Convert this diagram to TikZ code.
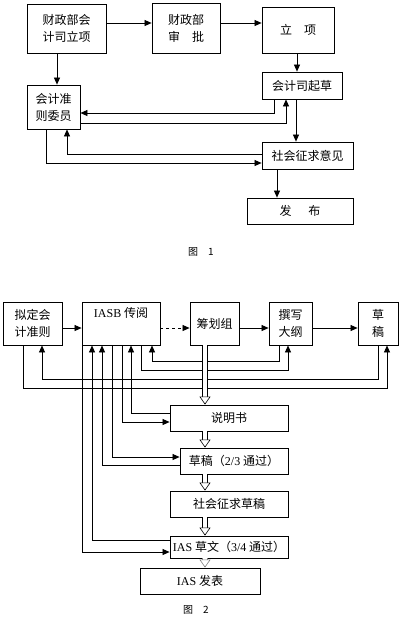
\documentclass[tikz,border=0pt]{standalone}
\usepackage{fontspec}
\setmainfont{Liberation Serif}
\newfontfamily\cjk{Noto Sans CJK SC}
\usetikzlibrary{arrows.meta}
\newcommand{\lat}[1]{{\rmfamily #1}}
\tikzset{
    box/.style={draw, line width=0.8pt, inner sep=0pt, align=center, font=\cjk\fontsize{12}{17}\selectfont},
    arr/.style={-{Triangle[length=7pt, width=6pt]}, line width=0.7pt},
    hollow/.style={double, double distance=4.5pt, line width=0.6pt, -{Triangle[length=8pt, width=11pt, fill=white, line width'=0.6pt]}},
    caption/.style={font=\cjk\fontsize{10}{12}\selectfont}
}
\begin{document}
\begin{tikzpicture}[x=1pt, y=-1pt]
\useasboundingbox (0,0) rectangle (400,619);
% Figure 1
\node[box, minimum width=79pt, minimum height=49pt] (kjslx) at (66.5,28.5) {财政部会\\计司立项};
\node[box, minimum width=68pt, minimum height=50pt] (czbsp) at (186,28) {财政部\\审\quad 批};
\node[box, minimum width=72pt, minimum height=46pt] (lixiang) at (298,30) {立\quad 项};
\node[box, minimum width=80pt, minimum height=27pt] (kjsqc) at (302,85.5) {会计司起草};
\node[box, minimum width=53pt, minimum height=44pt] (zzwy) at (53.5,107) {会计准\\则委员};
\node[box, minimum width=91pt, minimum height=27pt] (shzq) at (307.5,155.5) {社会征求意见};
\node[box, minimum width=106pt, minimum height=26pt] (fabu) at (300,211) {发\hspace{1.4em}布};
\node[caption] (fig1) at (201,252) {图\quad 1};

\draw[arr] (kjslx.east |- 0,23) -- (czbsp.west |- 0,23);
\draw[arr] (czbsp.east |- 0,23) -- (lixiang.west |- 0,23);
\draw[arr] (kjslx.south -| 57,0) -- (zzwy.north -| 57,0);
\draw[arr] (lixiang.south -| 297,0) -- (kjsqc.north -| 297,0);
\draw[arr] (kjsqc.south -| 274,0) |- (zzwy.east |- 0,113);
\draw[arr] (zzwy.east |- 0,123) -| (kjsqc.south -| 286,0);
\draw[arr] (kjsqc.south -| 296,0) -- (shzq.north -| 296,0);
\draw[arr] (zzwy.south -| 46,0) |- (shzq.west |- 0,163);
\draw[arr] (shzq.west |- 0,154) -| (zzwy.south -| 67,0);
\draw[arr] (shzq.south -| 277,0) -- (fabu.north -| 277,0);

% Figure 2
\node[box, minimum width=59pt, minimum height=43pt] (niding) at (32.5,323.5) {拟定会\\计准则};
\node[box, minimum width=78pt, minimum height=43pt] (iasb) at (121,323.5) {\lat{IASB} 传阅\\\strut};
\node[box, minimum width=49pt, minimum height=43pt] (chouhua) at (214.5,323.5) {筹划组};
\node[box, minimum width=43pt, minimum height=43pt] (dagang) at (290.5,323.5) {撰写\\大纲};
\node[box, minimum width=40pt, minimum height=43pt] (caogao) at (378,323.5) {草\\稿};
\node[box, minimum width=118pt, minimum height=26pt] (shuoming) at (229,418) {说明书};
\node[box, minimum width=108pt, minimum height=26pt] (caogaoB) at (234,461) {草稿（\lat{2/3} 通过）};
\node[box, minimum width=118pt, minimum height=26pt] (zqcaogao) at (229,504) {社会征求草稿};
\node[box, minimum width=118pt, minimum height=22pt] (iascw) at (229,547) {\lat{IAS} 草文（\lat{3/4} 通过）};
\node[box, minimum width=120pt, minimum height=26pt] (iasfb) at (200,581) {\lat{IAS} 发表};
\node[caption] (fig2) at (196,610) {图\quad 2};

\draw[arr] (niding.east |- 0,328) -- (iasb.west |- 0,328);
\draw[arr, dashed] (iasb.east |- 0,328) -- (chouhua.west |- 0,328);
\draw[arr] (chouhua.east |- 0,328) -- (dagang.west |- 0,328);
\draw[arr] (dagang.east |- 0,328) -- (caogao.west |- 0,328);

% feedback loops
\draw[arr] (dagang.south -| 279,0) -- (279,361) -| (iasb.south -| 152,0);
\draw[arr] (iasb.south -| 141,0) -- (141,370) -| (dagang.south -| 288,0);
\draw[arr] (caogao.south -| 378,0) -- (378,379) -| (niding.south -| 42,0);
\draw[arr] (niding.south -| 23,0) -- (23,388) -| (caogao.south -| 387,0);

\draw[arr] (iasb.south -| 82,0) |- (iascw.west |- 0,552);
\draw[arr] (iascw.west |- 0,540) -| (iasb.south -| 92,0);
\draw[arr] (caogaoB.west |- 0,465) -| (iasb.south -| 102,0);
\draw[arr] (iasb.south -| 112,0) |- (caogaoB.west |- 0,457);
\draw[arr] (iasb.south -| 122,0) |- (shuoming.west |- 0,422);
\draw[arr] (shuoming.west |- 0,413) -| (iasb.south -| 131,0);

% main flow
\draw[hollow] (chouhua.south -| 205,0) -- (shuoming.north -| 205,0);
\draw[hollow] (shuoming.south -| 205,0) -- (caogaoB.north -| 205,0);
\draw[hollow] (caogaoB.south -| 205,0) -- (zqcaogao.north -| 205,0);
\draw[hollow] (zqcaogao.south -| 205,0) -- (iascw.north -| 205,0);
\draw[hollow, gray] (iascw.south -| 205,0) -- (iasfb.north -| 205,0);
\end{tikzpicture}
\end{document}
